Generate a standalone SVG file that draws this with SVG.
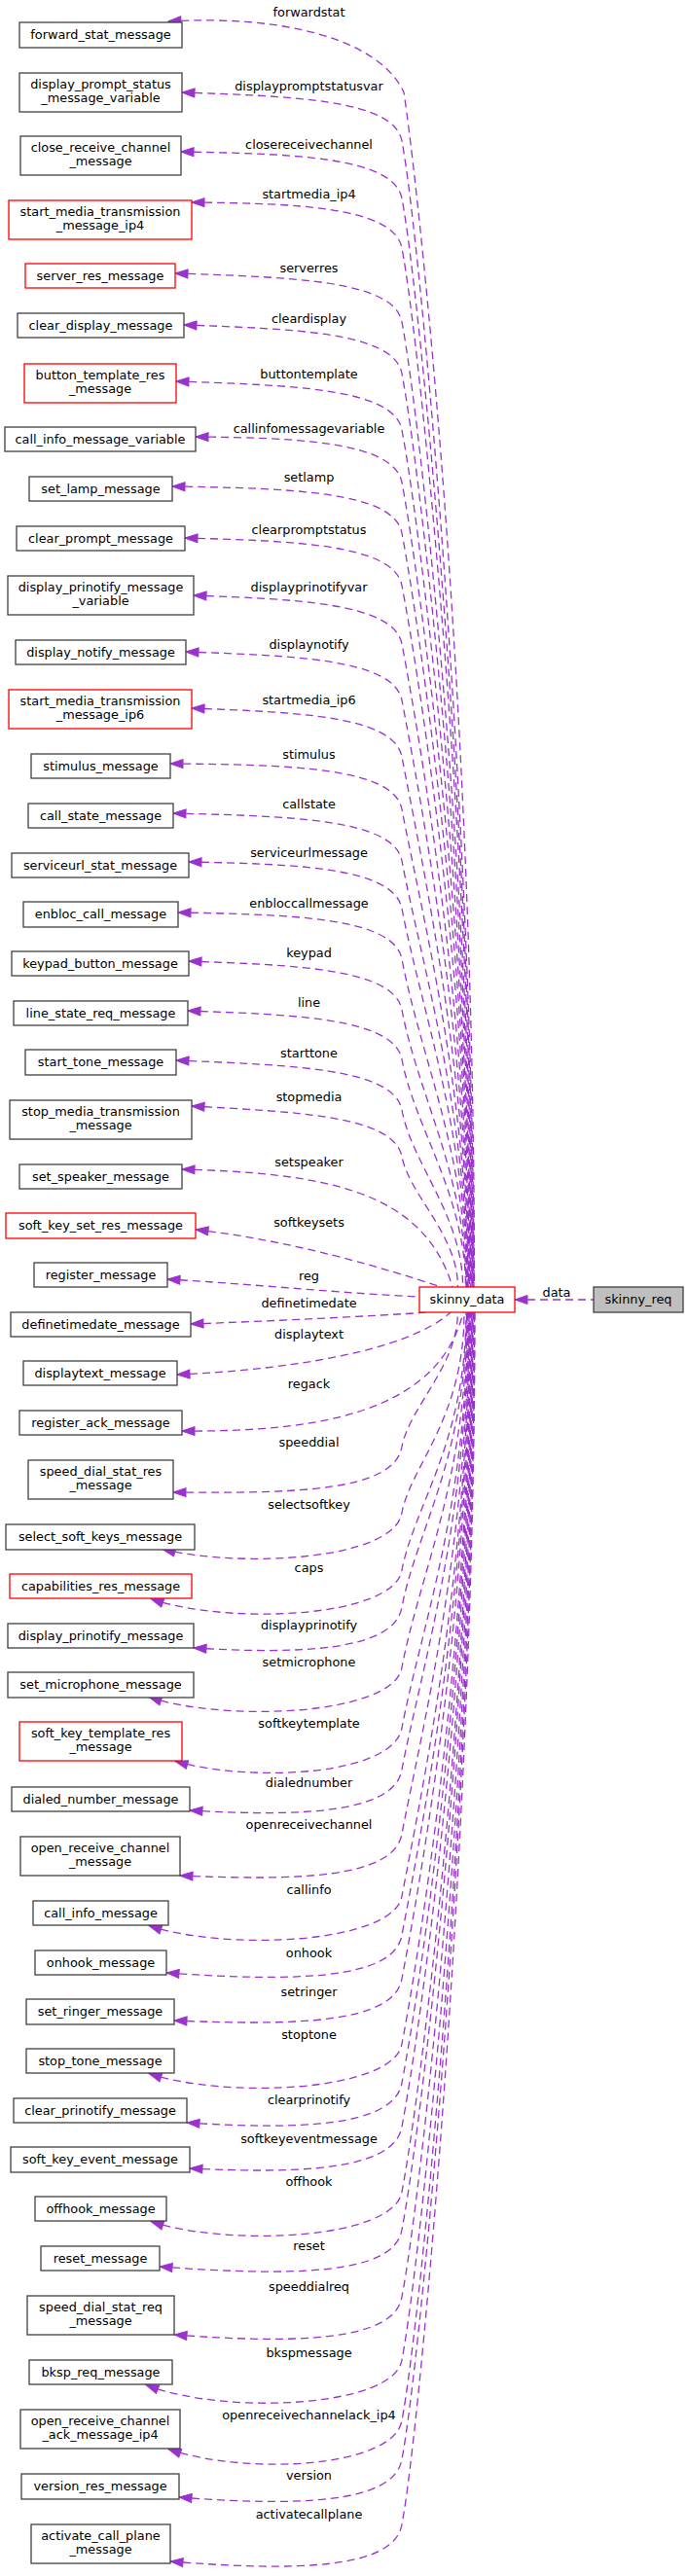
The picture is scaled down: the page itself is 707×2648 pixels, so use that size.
<svg xmlns="http://www.w3.org/2000/svg" width="707" height="2648" viewBox="0 0 707 2648">
<style>
.n rect{fill:#fff;stroke:#404040;stroke-width:1.3}
.n.r rect{stroke:#ff0000}
.n.g rect{fill:#bfbfbf}
text{font-family:"DejaVu Sans","Liberation Sans",sans-serif;font-size:12.85px;fill:#000;text-anchor:middle}
#edges path{fill:none;stroke:#9a32cd;stroke-width:1.3;stroke-dasharray:8,5;marker-start:url(#ah)}
</style>
<defs>
<marker id="ah" markerUnits="userSpaceOnUse" markerWidth="15" markerHeight="11" viewBox="-1 -5.5 15 11" refX="13" refY="0" orient="auto-start-reverse">
<path d="M0,-4.5 L13,0 L0,4.5 Z" fill="#9a32cd" stroke="#9a32cd" stroke-width="1" stroke-dasharray="none"/>
</marker>
</defs>
<rect width="707" height="2648" fill="#fff"/>
<g id="edges">
<path d="M173,22 C290,15 390,40 415,95 C428,180 487.5,700 487.5,1323"/>
<path d="M187,95 C300,99 405,102 413,145 C432,245 487,852 487,1323"/>
<path d="M186,156 C300,158 405,161 413,204 C432,304 486.5,875 486.5,1323"/>
<path d="M197,208 C300,209 405,212 413,255 C432,355 486,896 486,1323"/>
<path d="M180,281 C300,285 405,288 413,331 C432,431 485.5,926 485.5,1323"/>
<path d="M189,334 C300,338 405,341 413,384 C432,484 485,947 485,1323"/>
<path d="M181,392 C300,396 405,399 413,442 C432,542 484.5,971 484.5,1323"/>
<path d="M201,449 C300,450 405,453 413,496 C432,596 484,992 484,1323"/>
<path d="M177,500 C300,502 405,505 413,548 C432,648 483.5,1013 483.5,1323"/>
<path d="M190,553 C300,556 405,559 413,602 C432,702 483,1035 483,1323"/>
<path d="M199,612 C300,616 405,619 413,662 C432,762 482.5,1059 482.5,1323"/>
<path d="M191,670 C300,674 405,677 413,720 C432,820 482,1082 482,1323"/>
<path d="M197,728 C300,732 405,735 413,778 C432,878 481.5,1105 481.5,1323"/>
<path d="M175,785 C300,786 405,789 413,832 C432,932 481,1127 481,1323"/>
<path d="M178,836 C300,839 405,842 413,885 C432,985 480.5,1148 480.5,1323"/>
<path d="M194,886 C300,888 405,891 413,934 C432,1034 480,1167 480,1323"/>
<path d="M183,938 C300,940 405,943 413,986 C432,1086 479.5,1188 479.5,1323"/>
<path d="M194,988 C300,992 405,995 413,1038 C429,1124 479,1209 479,1323"/>
<path d="M193,1039 C300,1043 405,1046 413,1089 C426,1159 478.5,1229 478.5,1323"/>
<path d="M181,1090 C300,1095 405,1098 413,1141 C423,1196 475.6,1250 475.6,1323"/>
<path d="M197,1137 C300,1143 405,1146 413,1189 C421,1229 470.5,1269 470.5,1323"/>
<path d="M187,1202 C330,1206 435,1222 465,1323"/>
<path d="M201,1264 C300,1275 400,1305 453,1323"/>
<path d="M172,1315 C260,1320 360,1330 431,1333"/>
<path d="M196,1361 C280,1358 380,1353 440,1349"/>
<path d="M182,1413 C300,1408 420,1388 463,1349"/>
<path d="M187,1471 C320,1472 450,1455 476,1349"/>
<path d="M178,1534 C300,1535 405,1534 413,1487 C421,1446 470.4,1404 470.4,1349"/>
<path d="M167,1592.5 C247,1612 405,1604 413,1555 C422,1507 477,1458 477,1349"/>
<path d="M155,1643.5 C235,1671 405,1663 413,1614 C425.5,1548 479,1482 479,1349"/>
<path d="M199,1694 C300,1700 405,1699 413,1652 C427.7,1574.6 479.5,1497 479.5,1349"/>
<path d="M153,1744.5 C233,1771 405,1763 413,1714 C431,1618 480,1522 480,1349"/>
<path d="M180,1810.5 C260,1833 405,1825 413,1776 C432,1676 480.5,1547 480.5,1349"/>
<path d="M195,1861 C300,1867 405,1866 413,1819 C432,1719 481,1564 481,1349"/>
<path d="M185,1928 C300,1933 405,1932 413,1885 C432,1785 481.5,1590 481.5,1349"/>
<path d="M153,1979.5 C233,2006 405,1998 413,1949 C432,1849 482,1616 482,1349"/>
<path d="M171,2028 C300,2037 405,2036 413,1989 C432,1889 482.5,1632 482.5,1349"/>
<path d="M179,2077 C300,2082 405,2081 413,2034 C432,1934 483,1650 483,1349"/>
<path d="M153,2131.5 C233,2158 405,2150 413,2101 C432,2001 483.5,1677 483.5,1349"/>
<path d="M192,2182 C300,2189 405,2188 413,2141 C432,2041 484,1693 484,1349"/>
<path d="M195,2229 C300,2234 405,2233 413,2186 C432,2086 484.5,1711 484.5,1349"/>
<path d="M155,2283.5 C235,2310 405,2302 413,2253 C432,2153 485,1738 485,1349"/>
<path d="M164,2330 C300,2340 405,2339 413,2292 C432,2192 485.5,1753 485.5,1349"/>
<path d="M179,2400 C300,2409 405,2408 413,2361 C432,2261 486,1781 486,1349"/>
<path d="M150,2451.5 C230,2483 405,2475 413,2426 C432,2326 486.5,1807 486.5,1349"/>
<path d="M173,2517.5 C253,2545 405,2537 413,2488 C432,2388 487,1832 487,1349"/>
<path d="M184,2567 C300,2576 405,2575 413,2528 C432,2428 487.5,1848 487.5,1349"/>
<path d="M175,2633 C300,2643 405,2642 413,2595 C432,2495 488,1874 488,1349"/>
<path d="M529,1336 L610,1336"/>
</g>
<g id="edge-labels">
<text x="317.5" y="16.5">forwardstat</text>
<text x="317.5" y="92.5">displaypromptstatusvar</text>
<text x="317.5" y="152.5">closereceivechannel</text>
<text x="317.5" y="203.5">startmedia_ip4</text>
<text x="317.5" y="279.5">serverres</text>
<text x="317.5" y="331.5">cleardisplay</text>
<text x="317.5" y="388.5">buttontemplate</text>
<text x="317.5" y="444.5">callinfomessagevariable</text>
<text x="317.5" y="494.5">setlamp</text>
<text x="317.5" y="548.5">clearpromptstatus</text>
<text x="317.5" y="607.5">displayprinotifyvar</text>
<text x="317.5" y="666.5">displaynotify</text>
<text x="317.5" y="723.5">startmedia_ip6</text>
<text x="317.5" y="779.5">stimulus</text>
<text x="317.5" y="831">callstate</text>
<text x="317.5" y="880.5">serviceurlmessage</text>
<text x="317.5" y="932.5">enbloccallmessage</text>
<text x="317.5" y="983.5">keypad</text>
<text x="317.5" y="1034.5">line</text>
<text x="317.5" y="1086.5">starttone</text>
<text x="317.5" y="1131.5">stopmedia</text>
<text x="317.5" y="1198.5">setspeaker</text>
<text x="317.5" y="1260.5">softkeysets</text>
<text x="317.5" y="1315.5">reg</text>
<text x="317.5" y="1343.5">definetimedate</text>
<text x="317.5" y="1375.5">displaytext</text>
<text x="317.5" y="1427">regack</text>
<text x="317.5" y="1486.5">speeddial</text>
<text x="317.5" y="1550.5">selectsoftkey</text>
<text x="317.5" y="1615.5">caps</text>
<text x="317.5" y="1674.5">displayprinotify</text>
<text x="317.5" y="1712.5">setmicrophone</text>
<text x="317.5" y="1775.5">softkeytemplate</text>
<text x="317.5" y="1836.5">dialednumber</text>
<text x="317.5" y="1879.5">openreceivechannel</text>
<text x="317.5" y="1946.5">callinfo</text>
<text x="317.5" y="2011.5">onhook</text>
<text x="317.5" y="2051.5">setringer</text>
<text x="317.5" y="2095.5">stoptone</text>
<text x="317.5" y="2162.5">clearprinotify</text>
<text x="317.5" y="2202.5">softkeyeventmessage</text>
<text x="317.5" y="2246.5">offhook</text>
<text x="317.5" y="2312.5">reset</text>
<text x="317.5" y="2354.5">speeddialreq</text>
<text x="317.5" y="2422.5">bkspmessage</text>
<text x="317.5" y="2486.5">openreceivechannelack_ip4</text>
<text x="317.5" y="2548.5">version</text>
<text x="317.5" y="2588.5">activatecallplane</text>
<text x="572" y="1332.5">data</text>
</g>
<g id="skinny_req" class="n g"><rect x="610" y="1323" width="92" height="26"/><text x="656" y="1340">skinny_req</text></g>
<g id="skinny_data" class="n r"><rect x="431" y="1323" width="98" height="26"/><text x="480" y="1340">skinny_data</text></g>
<g id="forward_stat_message" class="n"><rect x="20" y="23" width="167" height="26"/><text x="103.5" y="40">forward_stat_message</text></g>
<g id="display_prompt_status_message_variable" class="n"><rect x="20" y="75" width="167" height="40"/><text x="103.5" y="90.5">display_prompt_status</text><text x="103.5" y="104.5">_message_variable</text></g>
<g id="close_receive_channel_message" class="n"><rect x="21" y="140" width="165" height="40"/><text x="103.5" y="155.5">close_receive_channel</text><text x="103.5" y="169.5">_message</text></g>
<g id="start_media_transmission_message_ip4" class="n r"><rect x="9" y="206" width="188" height="40"/><text x="103" y="221.5">start_media_transmission</text><text x="103" y="235.5">_message_ip4</text></g>
<g id="server_res_message" class="n r"><rect x="26" y="271" width="154" height="25"/><text x="103" y="287.5">server_res_message</text></g>
<g id="clear_display_message" class="n"><rect x="18" y="322" width="171" height="25"/><text x="103.5" y="338.5">clear_display_message</text></g>
<g id="button_template_res_message" class="n r"><rect x="25" y="374" width="156" height="40"/><text x="103" y="389.5">button_template_res</text><text x="103" y="403.5">_message</text></g>
<g id="call_info_message_variable" class="n"><rect x="5" y="439" width="196" height="25"/><text x="103" y="455.5">call_info_message_variable</text></g>
<g id="set_lamp_message" class="n"><rect x="30" y="490" width="147" height="25"/><text x="103.5" y="506.5">set_lamp_message</text></g>
<g id="clear_prompt_message" class="n"><rect x="17" y="541" width="173" height="25"/><text x="103.5" y="557.5">clear_prompt_message</text></g>
<g id="display_prinotify_message_variable" class="n"><rect x="8" y="592" width="191" height="40"/><text x="103.5" y="607.5">display_prinotify_message</text><text x="103.5" y="621.5">_variable</text></g>
<g id="display_notify_message" class="n"><rect x="16" y="658" width="175" height="25"/><text x="103.5" y="674.5">display_notify_message</text></g>
<g id="start_media_transmission_message_ip6" class="n r"><rect x="9" y="709" width="188" height="40"/><text x="103" y="724.5">start_media_transmission</text><text x="103" y="738.5">_message_ip6</text></g>
<g id="stimulus_message" class="n"><rect x="32" y="775" width="143" height="25"/><text x="103.5" y="791.5">stimulus_message</text></g>
<g id="call_state_message" class="n"><rect x="29" y="826" width="149" height="25"/><text x="103.5" y="842.5">call_state_message</text></g>
<g id="serviceurl_stat_message" class="n"><rect x="12" y="877" width="182" height="25"/><text x="103" y="893.5">serviceurl_stat_message</text></g>
<g id="enbloc_call_message" class="n"><rect x="24" y="927" width="159" height="26"/><text x="103.5" y="944">enbloc_call_message</text></g>
<g id="keypad_button_message" class="n"><rect x="12" y="978" width="182" height="25"/><text x="103" y="994.5">keypad_button_message</text></g>
<g id="line_state_req_message" class="n"><rect x="14" y="1029" width="179" height="25"/><text x="103.5" y="1045.5">line_state_req_message</text></g>
<g id="start_tone_message" class="n"><rect x="26" y="1079" width="155" height="26"/><text x="103.5" y="1096">start_tone_message</text></g>
<g id="stop_media_transmission_message" class="n"><rect x="10" y="1131" width="187" height="40"/><text x="103.5" y="1146.5">stop_media_transmission</text><text x="103.5" y="1160.5">_message</text></g>
<g id="set_speaker_message" class="n"><rect x="20" y="1197" width="167" height="25"/><text x="103.5" y="1213.5">set_speaker_message</text></g>
<g id="soft_key_set_res_message" class="n r"><rect x="6" y="1247" width="195" height="26"/><text x="103.5" y="1264">soft_key_set_res_message</text></g>
<g id="register_message" class="n"><rect x="35" y="1298" width="137" height="25"/><text x="103.5" y="1314.5">register_message</text></g>
<g id="definetimedate_message" class="n"><rect x="11" y="1349" width="185" height="25"/><text x="103.5" y="1365.5">definetimedate_message</text></g>
<g id="displaytext_message" class="n"><rect x="24" y="1399" width="158" height="25"/><text x="103" y="1415.5">displaytext_message</text></g>
<g id="register_ack_message" class="n"><rect x="20" y="1450" width="167" height="25"/><text x="103.5" y="1466.5">register_ack_message</text></g>
<g id="speed_dial_stat_res_message" class="n"><rect x="29" y="1501" width="149" height="40"/><text x="103.5" y="1516.5">speed_dial_stat_res</text><text x="103.5" y="1530.5">_message</text></g>
<g id="select_soft_keys_message" class="n"><rect x="6" y="1567" width="194" height="26"/><text x="103" y="1584">select_soft_keys_message</text></g>
<g id="capabilities_res_message" class="n r"><rect x="10" y="1618" width="187" height="25"/><text x="103.5" y="1634.5">capabilities_res_message</text></g>
<g id="display_prinotify_message" class="n"><rect x="8" y="1669" width="191" height="25"/><text x="103.5" y="1685.5">display_prinotify_message</text></g>
<g id="set_microphone_message" class="n"><rect x="8" y="1719" width="191" height="26"/><text x="103.5" y="1736">set_microphone_message</text></g>
<g id="soft_key_template_res_message" class="n r"><rect x="20" y="1770" width="167" height="40"/><text x="103.5" y="1785.5">soft_key_template_res</text><text x="103.5" y="1799.5">_message</text></g>
<g id="dialed_number_message" class="n"><rect x="12" y="1837" width="183" height="25"/><text x="103.5" y="1853.5">dialed_number_message</text></g>
<g id="open_receive_channel_message" class="n"><rect x="21" y="1888" width="164" height="40"/><text x="103" y="1903.5">open_receive_channel</text><text x="103" y="1917.5">_message</text></g>
<g id="call_info_message" class="n"><rect x="34" y="1954" width="139" height="25"/><text x="103.5" y="1970.5">call_info_message</text></g>
<g id="onhook_message" class="n"><rect x="36" y="2005" width="135" height="25"/><text x="103.5" y="2021.5">onhook_message</text></g>
<g id="set_ringer_message" class="n"><rect x="27" y="2055" width="152" height="26"/><text x="103" y="2072">set_ringer_message</text></g>
<g id="stop_tone_message" class="n"><rect x="27" y="2106" width="152" height="25"/><text x="103" y="2122.5">stop_tone_message</text></g>
<g id="clear_prinotify_message" class="n"><rect x="14" y="2157" width="178" height="25"/><text x="103" y="2173.5">clear_prinotify_message</text></g>
<g id="soft_key_event_message" class="n"><rect x="11" y="2207" width="184" height="26"/><text x="103" y="2224">soft_key_event_message</text></g>
<g id="offhook_message" class="n"><rect x="36" y="2258" width="135" height="25"/><text x="103.5" y="2274.5">offhook_message</text></g>
<g id="reset_message" class="n"><rect x="42" y="2309" width="122" height="25"/><text x="103" y="2325.5">reset_message</text></g>
<g id="speed_dial_stat_req_message" class="n"><rect x="28" y="2360" width="151" height="40"/><text x="103.5" y="2375.5">speed_dial_stat_req</text><text x="103.5" y="2389.5">_message</text></g>
<g id="bksp_req_message" class="n"><rect x="30" y="2426" width="147" height="25"/><text x="103.5" y="2442.5">bksp_req_message</text></g>
<g id="open_receive_channel_ack_message_ip4" class="n"><rect x="21" y="2477" width="164" height="40"/><text x="103" y="2492.5">open_receive_channel</text><text x="103" y="2506.5">_ack_message_ip4</text></g>
<g id="version_res_message" class="n"><rect x="22" y="2543" width="162" height="26"/><text x="103" y="2560">version_res_message</text></g>
<g id="activate_call_plane_message" class="n"><rect x="32" y="2595" width="143" height="40"/><text x="103.5" y="2610.5">activate_call_plane</text><text x="103.5" y="2624.5">_message</text></g>
</svg>
